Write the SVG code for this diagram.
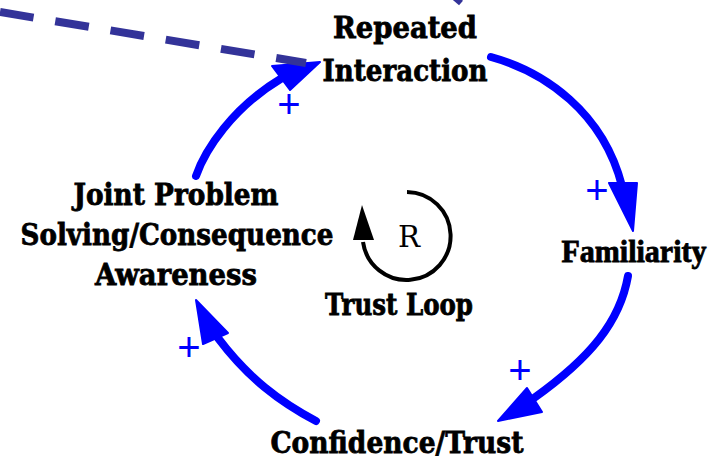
<svg xmlns="http://www.w3.org/2000/svg" width="720" height="460" viewBox="0 0 720 460">
<style>
.lbl{font-family:"DejaVu Serif","Liberation Serif",serif;font-weight:bold;font-size:30px;fill:#000;stroke:#000;stroke-width:0.8;text-anchor:middle}
.plus{font-family:"Liberation Sans",Arial,sans-serif;font-size:40px;fill:#0000ff;text-anchor:middle}
.link{fill:none;stroke:#0000ff;stroke-width:8;stroke-linecap:round}
.head{fill:#0000ff;stroke:#0000ff;stroke-width:2;stroke-linejoin:round}
.dash{fill:none;stroke:#333399;stroke-width:8;stroke-dasharray:34 22}
</style>
<rect width="720" height="460" fill="#ffffff"/>
<g id="connectors">
  <path class="link" d="M196,176 C205,150 232,108 282,78"/>
  <polygon class="head" points="272,66 320,62 290,90"/>
  <path class="link" d="M491,57 C545,72 603,112 622,186"/>
  <polygon class="head" points="609,183 637,183 633,231"/>
  <path class="link" d="M628,276 C620,322 590,358 534,398"/>
  <polygon class="head" points="527,388 542,412 498,421"/>
  <path class="link" d="M316,421 C280,402 248,378 218,338"/>
  <polygon class="head" points="196,300 203,344 228,333"/>
  <text class="plus" x="289" y="118">+</text>
  <text class="plus" x="597" y="204">+</text>
  <text class="plus" x="520" y="384">+</text>
  <text class="plus" x="189" y="361">+</text>
  <line class="dash" x1="0" y1="12" x2="306" y2="63"/>
  <line x1="454" y1="-3" x2="461" y2="3" stroke="#333399" stroke-width="6"/>
</g>
<g id="loop">
  <path d="M407,192 A44,44 0 1 1 363,242" fill="none" stroke="#000" stroke-width="4"/>
  <polygon points="362,205 353,240 374,240" fill="#000"/>
  <text x="409" y="247" font-family="DejaVu Serif,'Liberation Serif',serif" font-size="30" text-anchor="middle" textLength="22" lengthAdjust="spacingAndGlyphs">R</text>
  <text class="lbl" x="399" y="315" font-size="29" stroke-width="0.4" textLength="148" lengthAdjust="spacingAndGlyphs">Trust Loop</text>
</g>
<g id="node-repeated">
  <text class="lbl" x="405" y="38" textLength="144" lengthAdjust="spacingAndGlyphs">Repeated</text>
  <text class="lbl" x="405" y="81" textLength="165" lengthAdjust="spacingAndGlyphs">Interaction</text>
</g>
<g id="node-familiarity">
  <text class="lbl" transform="translate(634,262) scale(1,1.06)" x="0" y="0" style="font-family:'Liberation Serif',serif" font-size="32" stroke-width="1">Familiarity</text>
</g>
<g id="node-confidence">
  <text class="lbl" x="397" y="453" textLength="253" lengthAdjust="spacingAndGlyphs">Confidence/Trust</text>
</g>
<g id="node-joint">
  <text class="lbl" x="176" y="205" textLength="205" lengthAdjust="spacingAndGlyphs">Joint Problem</text>
  <text class="lbl" x="177" y="245" textLength="313" lengthAdjust="spacingAndGlyphs">Solving/Consequence</text>
  <text class="lbl" x="176" y="285" textLength="162" lengthAdjust="spacingAndGlyphs">Awareness</text>
</g>
</svg>
